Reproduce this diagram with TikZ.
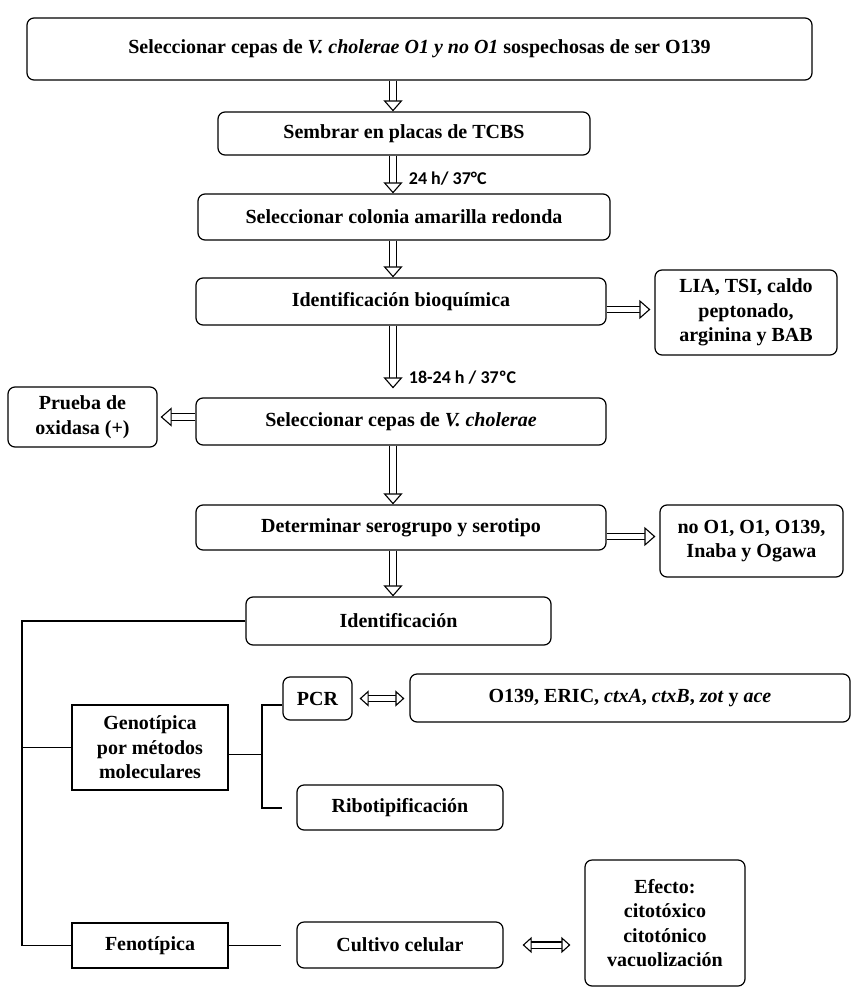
\documentclass[tikz,border=0pt]{standalone}
\usepackage{fontspec}
\setmainfont{Liberation Serif}
\newfontfamily\etiqfont{Carlito}
\usetikzlibrary{arrows.meta}

\tikzset{
	caja/.style={draw, rounded corners=7pt, line width=1.2pt, align=center, inner sep=2pt, font=\bfseries\fontsize{20}{24.5}\selectfont},
	cuadro/.style={caja, rounded corners=0pt},
	punta/.style={Triangle[open, fill=white, length=11pt, width=19pt, line width=1.1pt]},
	flecha/.style={double, double distance=5.5pt, line width=1.1pt, -{Triangle[open, fill=white, length=11pt, width=19pt, line width=1.1pt]}},
	dflecha/.style={double, double distance=5pt, line width=1.1pt, {Triangle[open, fill=white, length=9pt, width=16pt, line width=1.1pt]}-{Triangle[open, fill=white, length=9pt, width=16pt, line width=1.1pt]}},
	linea/.style={line width=1.2pt},
	tiempo/.style={font=\etiqfont\bfseries\fontsize{18}{21}\selectfont, anchor=west}
}

\begin{document}
\begin{tikzpicture}[x=1pt,y=-1pt]
\useasboundingbox (0,0) rectangle (855,988);

\node[caja, minimum width=785pt, minimum height=62pt] (sel) at (419.5,49) {Seleccionar cepas de \textit{V. cholerae O1 y no O1} sospechosas de ser O139};
\node[caja, minimum width=372pt, minimum height=43pt] (sem) at (404,133.5) {Sembrar en placas de TCBS};
\node[caja, minimum width=412pt, minimum height=46pt] (col) at (404,217) {Seleccionar colonia amarilla redonda};
\node[caja, minimum width=410pt, minimum height=47pt] (bio) at (401,301.5) {Identificación bioquímica};
\node[caja, minimum width=182pt, minimum height=85pt] (lia) at (746,312.5) {LIA, TSI, caldo\\peptonado,\\arginina y BAB};
\node[caja, minimum width=410pt, minimum height=47pt] (vch) at (401,421.5) {Seleccionar cepas de \textit{V. cholerae}};
\node[caja, minimum width=149pt, minimum height=60pt] (pru) at (82.5,417) {Prueba de\\oxidasa (+)};
\node[caja, minimum width=410pt, minimum height=45pt] (ser) at (401,527.5) {Determinar serogrupo y serotipo};
\node[caja, minimum width=183pt, minimum height=72pt] (noo) at (751.5,541) {no O1, O1, O139,\\Inaba y Ogawa};
\node[caja, minimum width=305pt, minimum height=48pt] (ide) at (398.5,621) {Identificación};

\node[cuadro, minimum width=156pt, minimum height=85pt] (gen) at (150,747.5) {Genotípica\\por métodos\\moleculares};
\node[caja, minimum width=69pt, minimum height=43pt] (pcr) at (317.5,698.5) {PCR};
\node[caja, minimum width=440pt, minimum height=48pt] (oge) at (630,698) {O139, ERIC, \textit{ctxA}, \textit{ctxB}, \textit{zot} y \textit{ace}};
\node[caja, minimum width=206pt, minimum height=45pt] (rib) at (400,807.5) {Ribotipificación};

\node[cuadro, minimum width=156pt, minimum height=45pt] (fen) at (150,945.5) {Fenotípica};
\node[caja, minimum width=206pt, minimum height=46pt] (cul) at (400,945) {Cultivo celular};
\node[caja, minimum width=160pt, minimum height=126pt] (efe) at (665,923) {Efecto:\\citotóxico\\citotónico\\vacuolización};

\coordinate (eje) at (393,0);
\coordinate (tronco) at (22,0);
\coordinate (llaveA) at (262,705);
\coordinate (llaveB) at (262,808);

% flechas principales
\draw[flecha] (sel.south -| eje) -- (sem.north -| eje);
\draw[flecha] (sem.south -| eje) -- (col.north -| eje) node[tiempo, pos=0.6, xshift=12pt] {24 h/ 37°C};
\draw[flecha] (col.south -| eje) -- (bio.north -| eje);
\draw[flecha, shorten >=9pt] (bio.south -| eje) -- (vch.north -| eje) node[tiempo, pos=0.72, xshift=12pt] {18-24 h / 37ºC};
\draw[flecha] (vch.south -| eje) -- (ser.north -| eje);
\draw[flecha] (ser.south -| eje) -- (ide.north -| eje);

\draw[flecha, shorten >=4pt] ([yshift=-8pt]bio.east) -- ([yshift=-8pt]bio.east -| lia.west);
\draw[flecha, shorten >=3pt] (vch.west |- pru.east) -- (pru.east);
\draw[flecha, shorten >=4pt] ([yshift=-9pt]ser.east) -- ([yshift=-9pt]ser.east -| noo.west);

% identificacion
\draw[linea] (ide.west) -| (fen.west -| tronco) -- (fen.west);
\draw[linea] (gen.west -| tronco) -- (gen.west);
\draw[linea] ([yshift=-7pt]gen.east) -- ([yshift=-7pt]gen.east -| llaveA);
\draw[linea] (llaveA -| pcr.west) -- (llaveA) -- (llaveB) -- (llaveB -| pcr.west);
\draw[linea] (fen.east) -- ++(52,0);

\draw[dflecha, shorten <=7pt, shorten >=5pt] (pcr.east) -- (pcr.east -| oge.west);
\draw[dflecha, shorten <=19pt, shorten >=14pt] (cul.east) -- (cul.east -| efe.west);

\end{tikzpicture}
\end{document}
